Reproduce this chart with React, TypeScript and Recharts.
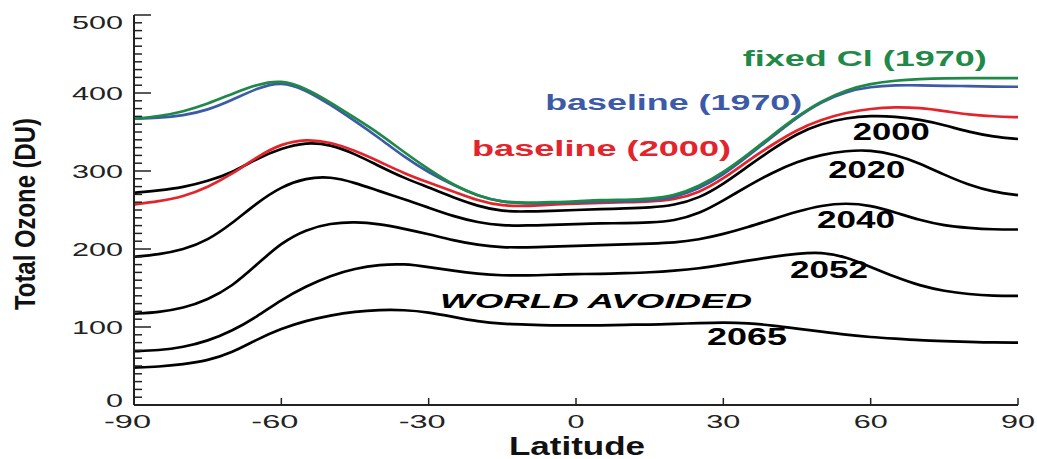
import React from "react";
import { LineChart, Line, XAxis, YAxis, ReferenceDot } from "recharts";

// Latitude grid (degrees)
const latitudes = [
  -90, -85, -80, -75, -70, -65, -60, -55, -50, -45, -40, -35, -30, -25, -20, -15, -10, -5,
  0, 5, 10, 15, 20, 25, 30, 35, 40, 45, 50, 55, 60, 65, 70, 75, 80, 85, 90,
];

// Total ozone (DU) per series
const fixedCl1970 = [
  367, 370, 376, 386, 399, 411, 417, 406, 388, 368, 348, 324, 302, 282, 268, 260, 259, 260,
  261, 263, 263, 264, 268, 280, 298, 321, 346, 370, 390, 404, 412, 416, 418, 419, 419, 419, 419,
];
const baseline1970 = [
  367, 368, 371, 378, 391, 406, 415, 404, 385, 364, 342, 318, 298, 282, 268, 260, 258, 259,
  260, 261, 261, 262, 266, 277, 295, 319, 344, 369, 389, 402, 408, 410, 410, 409, 409, 408, 408,
];
const baseline2000 = [
  257, 261, 267, 279, 296, 318, 335, 341, 337, 326, 312, 297, 285, 274, 262, 255, 255, 257,
  258, 259, 260, 261, 263, 272, 290, 313, 334, 353, 366, 375, 380, 382, 381, 377, 372, 370, 369,
];
const year2000 = [
  272, 275, 279, 287, 298, 316, 329, 337, 334, 322, 306, 291, 279, 266, 255, 248, 248, 249,
  250, 251, 252, 253, 256, 265, 283, 306, 328, 348, 361, 368, 371, 370, 366, 359, 350, 344, 341,
];
const year2020 = [
  190, 193, 199, 211, 233, 259, 280, 291, 293, 285, 274, 264, 253, 242, 234, 230, 230, 231,
  232, 233, 233, 234, 236, 245, 262, 281, 298, 312, 321, 326, 327, 321, 310, 295, 282, 273, 269,
];
const year2040 = [
  117, 119, 124, 135, 152, 180, 208, 225, 233, 235, 232, 226, 219, 211, 205, 202, 202, 203,
  204, 205, 206, 207, 208, 212, 219, 228, 238, 248, 256, 259, 256, 247, 237, 230, 227, 225, 225,
];
const year2052 = [
  69, 70, 74, 82, 95, 113, 135, 152, 166, 175, 180, 181, 177, 172, 168, 166, 166, 167,
  168, 168, 169, 170, 172, 175, 180, 185, 190, 194, 196, 190, 177, 164, 153, 146, 142, 140, 140,
];
const year2065 = [
  48, 49, 52, 57, 67, 84, 98, 108, 115, 120, 122, 122, 119, 113, 107, 104, 103, 102,
  102, 102, 103, 103, 104, 105, 106, 105, 102, 98, 94, 90, 87, 85, 83, 82, 81, 80, 80,
];

// Axis ticks
const latTicks = [-90, -60, -30, 0, 30, 60, 90];
const ozoneTicks = Array.from({ length: 51 }, (_, i) => i * 10);

// Annotations
const annoTexts = [
  "fixed Cl (1970)",
  "baseline (1970)",
  "baseline (2000)",
  "2000",
  "2020",
  "2040",
  "2052",
  "WORLD AVOIDED",
  "2065",
];
const annoLat = [58.8, 19.9, 5.2, 64.2, 59.2, 57.0, 51.5, 4.1, 34.8];
const annoDU = [434.6, 378.2, 319.2, 339.7, 291, 227, 162.8, 124.4, 76.9];

const GREEN = "#1f8a48";
const BLUE = "#3c5aa8";
const RED = "#e3242b";
const FONT = "'Liberation Sans', Arial, Helvetica, sans-serif";

const annoStyle = [
  { color: GREEN, width: 244, size: 22, italic: false },
  { color: BLUE, width: 257, size: 22, italic: false },
  { color: RED, width: 259, size: 22, italic: false },
  { color: "#000", width: 77, size: 23, italic: false },
  { color: "#000", width: 77, size: 23, italic: false },
  { color: "#000", width: 78, size: 23, italic: false },
  { color: "#000", width: 78, size: 23, italic: false },
  { color: "#000", width: 312, size: 21, italic: true },
  { color: "#000", width: 80, size: 23, italic: false },
];

const rows = latitudes.map((lat, i) => ({
  lat,
  fixedCl1970: fixedCl1970[i],
  baseline1970: baseline1970[i],
  baseline2000: baseline2000[i],
  year2000: year2000[i],
  year2020: year2020[i],
  year2040: year2040[i],
  year2052: year2052[i],
  year2065: year2065[i],
}));

const AXIS_COLOR = "#222";

const LeftTick = (props: any) => {
  const { x, y, payload } = props;
  const v = payload.value;
  const major = v % 100 === 0;
  const label = String(v);
  const w = label.length * 17;
  let dy = 6.5;
  if (v === 500) dy = 14;
  if (v === 0) dy = 2;
  return (
    <g>
      <line x1={x} x2={x + (major ? 17 : 8)} y1={y} y2={y} stroke={AXIS_COLOR} strokeWidth={1.5} />
      {major && (
        <text
          x={x - 11 - w}
          y={y + dy}
          textLength={w}
          lengthAdjust="spacingAndGlyphs"
          fontFamily={FONT}
          fontSize={18}
          fill="#222"
        >
          {label}
        </text>
      )}
    </g>
  );
};

const RightTick = (props: any) => {
  const { x, y, payload } = props;
  const major = payload.value % 100 === 0;
  return <line x1={x} x2={x - (major ? 15 : 8)} y1={y} y2={y} stroke={AXIS_COLOR} strokeWidth={1.5} />;
};

const BottomTick = (props: any) => {
  const { x, y, payload } = props;
  const v = payload.value;
  const digits = String(Math.abs(v));
  const dw = digits.length * 17;
  const neg = v < 0;
  const w = dw + (neg ? 13 : 0);
  const start = x - dw / 2 - (neg ? 13 : 0);
  return (
    <g>
      <line x1={x} x2={x} y1={y} y2={y - 7} stroke={AXIS_COLOR} strokeWidth={1.5} />
      <text
        x={start}
        y={y + 23}
        textLength={w}
        lengthAdjust="spacingAndGlyphs"
        fontFamily={FONT}
        fontSize={18}
        fill="#222"
      >
        {String(v)}
      </text>
    </g>
  );
};

const TopTick = (props: any) => {
  const { x, y } = props;
  return <line x1={x} x2={x} y1={y} y2={y + 8} stroke={AXIS_COLOR} strokeWidth={1.5} />;
};

const YTitle = (props: any) => {
  const vb = props.viewBox;
  const cx = vb.x + 35;
  const cy = vb.y + vb.height / 2 + 4;
  return (
    <text
      x={cx}
      y={cy}
      transform={`rotate(-90, ${cx}, ${cy})`}
      textAnchor="middle"
      textLength={192}
      lengthAdjust="spacingAndGlyphs"
      fontFamily={FONT}
      fontWeight="bold"
      fontSize={29}
      fill="#111"
    >
      Total Ozone (DU)
    </text>
  );
};

const XTitle = (props: any) => {
  const vb = props.viewBox;
  const w = 136;
  const cx = vb.x + vb.width / 2 + 1;
  return (
    <text
      x={cx - w / 2}
      y={vb.y + 50}
      textLength={w}
      lengthAdjust="spacingAndGlyphs"
      fontFamily={FONT}
      fontWeight="bold"
      fontSize={25}
      fill="#111"
    >
      Latitude
    </text>
  );
};

const makeAnno = (i: number) => (p: any) => {
  const vb = p.viewBox;
  const cx = vb.x + vb.width / 2;
  const cy = vb.y + vb.height / 2;
  const s = annoStyle[i];
  return (
    <text
      x={cx - s.width / 2}
      y={cy}
      textLength={s.width}
      lengthAdjust="spacingAndGlyphs"
      fontFamily={FONT}
      fontWeight="bold"
      fontStyle={s.italic ? "italic" : "normal"}
      fontSize={s.size}
      fill={s.color}
    >
      {annoTexts[i]}
    </text>
  );
};

const blackSeries = ["year2000", "year2020", "year2040", "year2052", "year2065"];

export default function App() {
  return (
    <div style={{ position: "absolute", left: 0, top: 0, width: 1037, height: 459, background: "#fff" }}>
      <LineChart width={1037} height={459} data={rows} margin={{ top: 15, right: 19, bottom: 0, left: 0 }}>
        <XAxis
          xAxisId="bottom"
          dataKey="lat"
          type="number"
          domain={[-90, 90]}
          ticks={latTicks}
          interval={0}
          height={54}
          tickSize={0}
          tickMargin={0}
          tickLine={false}
          axisLine={{ stroke: AXIS_COLOR, strokeWidth: 2 }}
          tick={<BottomTick />}
          label={{ content: (p: any) => <XTitle {...p} /> }}
        />
        <XAxis
          xAxisId="top"
          orientation="top"
          dataKey="lat"
          type="number"
          domain={[-90, 90]}
          ticks={latTicks}
          interval={0}
          height={0}
          tickSize={0}
          tickMargin={0}
          tickLine={false}
          axisLine={{ stroke: AXIS_COLOR, strokeWidth: 2 }}
          tick={<TopTick />}
        />
        <YAxis
          yAxisId="left"
          type="number"
          domain={[0, 500]}
          ticks={ozoneTicks}
          interval={0}
          width={134}
          tickSize={0}
          tickMargin={0}
          tickLine={false}
          axisLine={{ stroke: AXIS_COLOR, strokeWidth: 2 }}
          tick={<LeftTick />}
          label={{ content: (p: any) => <YTitle {...p} /> }}
        />
        <YAxis
          yAxisId="right"
          orientation="right"
          type="number"
          domain={[0, 500]}
          ticks={ozoneTicks}
          interval={0}
          width={0}
          tickSize={0}
          tickMargin={0}
          tickLine={false}
          axisLine={{ stroke: AXIS_COLOR, strokeWidth: 2 }}
          tick={<RightTick />}
        />
        {blackSeries.map((k) => (
          <Line
            key={k}
            xAxisId="bottom"
            yAxisId="left"
            type="basis"
            dataKey={k}
            stroke="#000"
            strokeWidth={2.7}
            dot={false}
            isAnimationActive={false}
          />
        ))}
        <Line xAxisId="bottom" yAxisId="left" type="basis" dataKey="baseline2000" stroke={RED} strokeWidth={2.7} dot={false} isAnimationActive={false} />
        <Line xAxisId="bottom" yAxisId="left" type="basis" dataKey="baseline1970" stroke={BLUE} strokeWidth={2.7} dot={false} isAnimationActive={false} />
        <Line xAxisId="bottom" yAxisId="left" type="basis" dataKey="fixedCl1970" stroke={GREEN} strokeWidth={2.7} dot={false} isAnimationActive={false} />
        {annoTexts.map((t, i) => (
          <ReferenceDot
            key={t}
            xAxisId="bottom"
            yAxisId="left"
            x={annoLat[i]}
            y={annoDU[i]}
            r={0}
            fill="none"
            stroke="none"
            label={{ content: makeAnno(i) }}
          />
        ))}
      </LineChart>
    </div>
  );
}
